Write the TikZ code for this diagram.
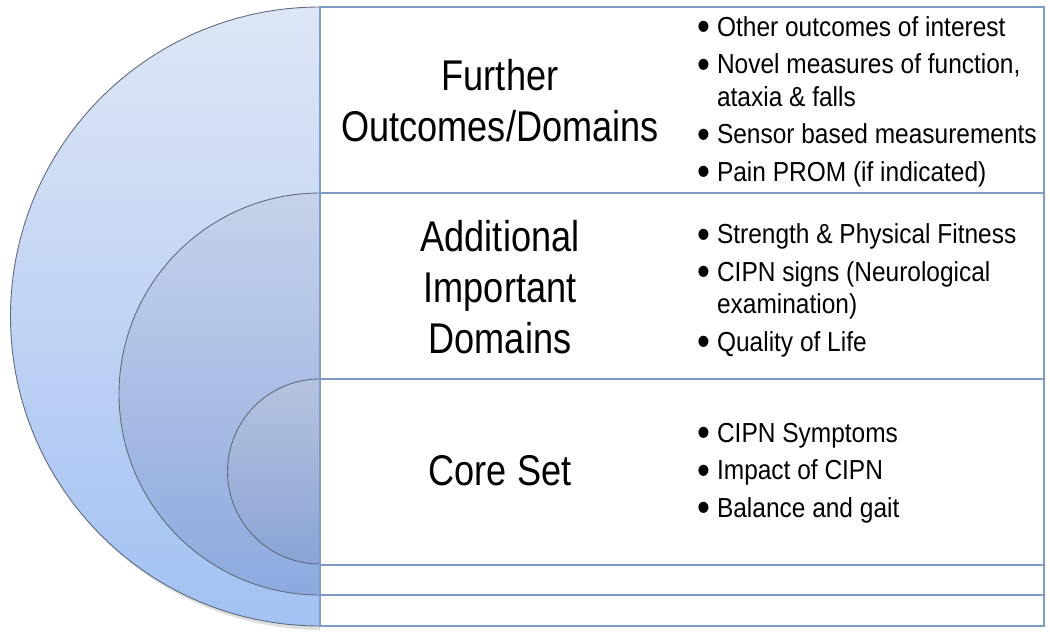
\documentclass[tikz,border=0pt]{standalone}
\usepackage{fontspec}
\newfontfamily\titlefont[FakeStretch=0.84]{Liberation Sans}
\newfontfamily\itemfont[FakeStretch=0.89]{Liberation Sans}
\usepackage{array}
\usepackage{graphicx}
\definecolor{rectline}{HTML}{7F9CC4}
\definecolor{arcline}{HTML}{5F6B7E}
\definecolor{oTop}{HTML}{DEE6F5}
\definecolor{oBot}{HTML}{A3C1F3}
\definecolor{mTop}{HTML}{C6D2EA}
\definecolor{mBot}{HTML}{8DA9DF}
\definecolor{iTop}{HTML}{B6C3DD}
\definecolor{iBot}{HTML}{8AA4D6}
\newcommand{\bigbul}{\raisebox{-0.17em}{\scalebox{1.5}{\textbullet}}}
\newcommand{\itemlist}[1]{{\itemfont\fontsize{27.5}{32.5}\selectfont\renewcommand{\arraystretch}{1}%
\begin{tabular}{@{}l@{\hspace{7pt}}l@{}}#1\end{tabular}}}
\tikzset{
  band/.style={draw=rectline, line width=1.2pt, fill=white},
  ring/.style={draw=arcline, line width=0.9pt},
  title/.style={align=center, font=\titlefont\fontsize{43}{51}\selectfont, inner sep=0pt},
  items/.style={anchor=west, inner sep=0pt},
}
\begin{document}
\begin{tikzpicture}[x=1pt,y=-1pt]
\useasboundingbox (0,0) rectangle (1050,637);
% outer
\begin{scope}
  \clip (0,0) rectangle (320,637);
  \fill[black!25, opacity=0.5] (323,320) circle[radius=310];
  \shade[top color=oTop, bottom color=oBot, ring] (320,316.5) circle[radius=309.5];
\end{scope}
\draw[band] (320,7) rectangle (1044,626);
% middle
\begin{scope}
  \clip (0,0) rectangle (320,637);
  \shade[top color=mTop, bottom color=mBot, ring] (320,394) circle[radius=201];
\end{scope}
\draw[band] (320,193) rectangle (1044,595);
% inner
\begin{scope}
  \clip (0,0) rectangle (320,637);
  \shade[top color=iTop, bottom color=iBot, ring] (320,471.5) circle[radius=92.5];
\end{scope}
\draw[band] (320,379) rectangle (1044,565);
% titles
\node[title] (t1) at (500,101) {Further\\Outcomes/Domains};
\node[title] (t2) at (500,287) {Additional\\Important\\Domains};
\node[title] (t3) at (500,471) {Core Set};
% item lists
\node[items] (l1) at (697,102) {\itemlist{%
\bigbul & Other outcomes of interest\\[5pt]
\bigbul & Novel measures of function,\\
 & ataxia \& falls\\[5pt]
\bigbul & Sensor based measurements\\[5pt]
\bigbul & Pain PROM (if indicated)}};
\node[items] (l2) at (697,291) {\itemlist{%
\bigbul & Strength \& Physical Fitness\\[5pt]
\bigbul & CIPN signs (Neurological\\
 & examination)\\[5pt]
\bigbul & Quality of Life}};
\node[items] (l3) at (697,473) {\itemlist{%
\bigbul & CIPN Symptoms\\[5pt]
\bigbul & Impact of CIPN\\[5pt]
\bigbul & Balance and gait}};
\end{tikzpicture}
\end{document}
